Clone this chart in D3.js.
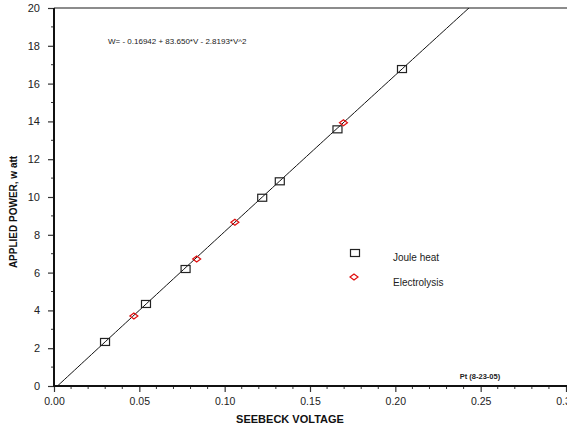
<!DOCTYPE html>
<html>
<head>
<meta charset="utf-8">
<script src="https://cdn.jsdelivr.net/npm/d3@7"></script>
<style>
  body { margin: 0; background: #fff; }
  svg { display: block; font-family: "Liberation Sans", Arial, sans-serif; }
</style>
</head>
<body>
<svg width="567" height="428"></svg>
<script>
// data
const jouleV = [0.0299, 0.0539, 0.0771, 0.1220, 0.1323, 0.1661, 0.2039];
const jouleW = [2.33, 4.34, 6.19, 9.96, 10.83, 13.58, 16.77];
const electroV = [0.0468, 0.0836, 0.1060, 0.1696];
const electroW = [3.70, 6.72, 8.66, 13.93];
const fitCoef = [-0.16942, 83.650, -2.8193]; // W = a + b*V + c*V^2
const xTicks = [0, 0.05, 0.10, 0.15, 0.20, 0.25, 0.30];
const yTicks = [0, 2, 4, 6, 8, 10, 12, 14, 16, 18, 20];
const legendNames = ['Joule heat', 'Electrolysis'];

const svg = d3.select('svg');
const margin = { top: 8, right: 1, bottom: 42, left: 54 };
const W = 567, H = 428;

const x = d3.scaleLinear().domain([0, 0.30]).range([margin.left, W - margin.right]);
const y = d3.scaleLinear().domain([0, 20]).range([H - margin.bottom, margin.top]);

// minor ticks
const xMinor = d3.range(0, 31).map(i => i / 100).filter(v => !xTicks.some(t => Math.abs(t - v) < 1e-9));
const yMinor = d3.range(1, 20, 2);

svg.append('g').selectAll('line').data(xMinor).enter().append('line')
  .attr('x1', d => x(d)).attr('x2', d => x(d))
  .attr('y1', y(0)).attr('y2', y(0) + 3)
  .attr('stroke', '#333').attr('stroke-width', 1);
svg.append('g').selectAll('line').data(yMinor).enter().append('line')
  .attr('x1', x(0) - 3).attr('x2', x(0))
  .attr('y1', d => y(d)).attr('y2', d => y(d))
  .attr('stroke', '#333').attr('stroke-width', 1);

// x axis
const xAxis = svg.append('g')
  .attr('transform', `translate(0,${y(0)})`)
  .call(d3.axisBottom(x).tickValues(xTicks).tickFormat(d3.format('.2f')).tickSize(6).tickSizeOuter(0));
xAxis.select('.domain').remove();
xAxis.selectAll('.tick line').attr('stroke', '#333').attr('stroke-width', 1.2);
xAxis.selectAll('.tick text').attr('font-size', 10.5).attr('fill', '#222')
  .attr('font-family', '"Liberation Sans", Arial, sans-serif').attr('y', 12).attr('dy', '0.71em');

// y axis
const yAxis = svg.append('g')
  .attr('transform', `translate(${x(0)},0)`)
  .call(d3.axisLeft(y).tickValues(yTicks).tickSize(6).tickSizeOuter(0));
yAxis.select('.domain').remove();
yAxis.selectAll('.tick line').attr('stroke', '#333').attr('stroke-width', 1.2);
yAxis.selectAll('.tick text').attr('font-size', 11).attr('fill', '#222')
  .attr('font-family', '"Liberation Sans", Arial, sans-serif').attr('x', -14);

// frame
svg.append('line').attr('x1', x(0)).attr('x2', W).attr('y1', y(20)).attr('y2', y(20))
  .attr('stroke', '#666').attr('stroke-width', 1.5);
svg.append('line').attr('x1', x(0)).attr('x2', W).attr('y1', y(0)).attr('y2', y(0))
  .attr('stroke', '#111').attr('stroke-width', 2);
svg.append('line').attr('x1', x(0)).attr('x2', x(0)).attr('y1', y(20)).attr('y2', y(0) + 1)
  .attr('stroke', '#111').attr('stroke-width', 2);

// fit curve
const fit = v => fitCoef[0] + fitCoef[1] * v + fitCoef[2] * v * v;
const vs = d3.range(0, 0.3001, 0.002).filter(v => fit(v) >= 0 && fit(v) <= 20);
svg.append('defs').append('clipPath').attr('id', 'clip').append('rect')
  .attr('x', x(0)).attr('y', y(20)).attr('width', x(0.3) - x(0)).attr('height', y(0) - y(20));
svg.append('path')
  .attr('clip-path', 'url(#clip)')
  .attr('d', d3.line().x(v => x(v)).y(v => y(fit(v)))([ (-fitCoef[0]) / fitCoef[1], ...vs, 0.25 ]))
  .attr('fill', 'none').attr('stroke', '#111').attr('stroke-width', 1);

// markers
const square = (g, cx, cy) => g.append('rect')
  .attr('x', cx - 4.5).attr('y', cy - 3.5).attr('width', 9).attr('height', 7)
  .attr('fill', 'none').attr('stroke', '#222').attr('stroke-width', 1.2);
const diamond = (g, cx, cy) => g.append('path')
  .attr('d', `M${cx - 4},${cy} L${cx},${cy - 3} L${cx + 4},${cy} L${cx},${cy + 3} Z`)
  .attr('fill', 'none').attr('stroke', '#e01010').attr('stroke-width', 1.2);

const pts = svg.append('g');
jouleV.forEach((v, i) => square(pts, x(v), y(jouleW[i])));
electroV.forEach((v, i) => diamond(pts, x(v), y(electroW[i])));

// legend
const leg = svg.append('g');
square(leg, 355, 253);
diamond(leg, 354, 277);
legendNames.forEach((n, i) => {
  leg.append('text').attr('x', 393).attr('y', 261 + i * 25)
    .attr('font-size', 10).attr('fill', '#222').text(n);
});

// annotation texts
svg.append('text').attr('x', 108).attr('y', 44)
  .attr('font-size', 8).attr('fill', '#222')
  .text('W=  - 0.16942 + 83.650*V - 2.8193*V^2');
svg.append('text').attr('x', 480).attr('y', 379).attr('text-anchor', 'middle')
  .attr('font-size', 7.5).attr('font-weight', 'bold').attr('fill', '#222')
  .text('Pt (8-23-05)');

// axis titles
svg.append('text').attr('x', 290).attr('y', 423).attr('text-anchor', 'middle')
  .attr('font-size', 11).attr('font-weight', 'bold').attr('fill', '#111')
  .text('SEEBECK VOLTAGE');
svg.append('text').attr('transform', 'translate(17,212) rotate(-90)').attr('text-anchor', 'middle')
  .attr('font-size', 10).attr('font-weight', 'bold').attr('fill', '#111')
  .text('APPLIED POWER, w att');
</script>
</body>
</html>
